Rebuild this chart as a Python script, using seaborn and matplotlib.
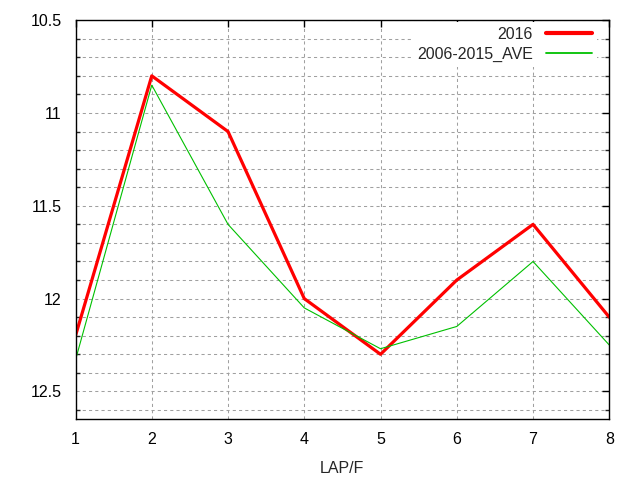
import numpy as np
import pandas as pd
import seaborn as sns
import matplotlib.pyplot as plt
from matplotlib.ticker import MultipleLocator

laps = [1, 2, 3, 4, 5, 6, 7, 8]
y2016 = [12.2, 10.8, 11.1, 12.0, 12.3, 11.9, 11.6, 12.1]
y_ave = [12.33, 10.85, 11.6, 12.05, 12.27, 12.15, 11.8, 12.25]
series = ['2016', '2006-2015_AVE']

df = pd.DataFrame({
    'lap': laps * 2,
    'value': y2016 + y_ave,
    'series': [series[0]] * len(laps) + [series[1]] * len(laps),
})

sns.set_style('white')
plt.rcParams['font.family'] = ['Liberation Sans', 'DejaVu Sans']
plt.rcParams['font.size'] = 11.5

fig = plt.figure(figsize=(6.4, 4.8), dpi=100)
ax = fig.add_axes([0.118, 0.1265, 0.834, 0.8315])

sns.lineplot(data=df, x='lap', y='value', hue='series', hue_order=series,
             palette={'2016': '#ff0000', '2006-2015_AVE': '#00c000'},
             size='series', sizes={'2016': 2.3, '2006-2015_AVE': 0.8},
             size_order=series, ax=ax, legend='brief')

ax.set_xlim(1, 8)
ax.set_ylim(12.65, 10.5)
ax.xaxis.set_major_locator(MultipleLocator(1))
ax.yaxis.set_minor_locator(MultipleLocator(0.1))
ax.set_yticks([10.5, 11, 11.5, 12, 12.5])
ax.set_yticklabels(['10.5', '11', '11.5', '12', '12.5'])

grid_kw = dict(color='#a0a0a0', linestyle=(0, (3, 3)), linewidth=0.75)
ax.grid(which='major', axis='x', **grid_kw)
ax.grid(which='both', axis='y', **grid_kw)

ax.tick_params(which='major', direction='in', length=5, width=1, top=True, right=True,
               labelsize=11.5, colors='black', pad=10)
ax.tick_params(which='minor', direction='in', length=3, width=1, top=False, right=True, left=True)
ax.tick_params(axis='x', pad=9)
for s in ax.spines.values():
    s.set_visible(True)
    s.set_color('black')
    s.set_linewidth(1)
    s.set_zorder(10)

ax.set_xlabel('LAP/F', fontsize=11.5, labelpad=10)
ax.set_ylabel('')

handles, labels = ax.get_legend_handles_labels()
leg = ax.legend(handles, labels, loc='upper right', markerfirst=False,
                handlelength=2.9, handletextpad=0.8, frameon=True, fancybox=False,
                framealpha=1, borderpad=0.3, labelspacing=0.3, fontsize=11.5,
                borderaxespad=0.0, bbox_to_anchor=(0.977, 0.995))
leg.get_frame().set_edgecolor('none')
leg.get_frame().set_facecolor('white')
for line, lw, c in zip(leg.get_lines(), [3.0, 1.3], ['#ff0000', '#00c000']):
    line.set_linewidth(lw)
    line.set_color(c)

fig.savefig('out.png', dpi=100)
